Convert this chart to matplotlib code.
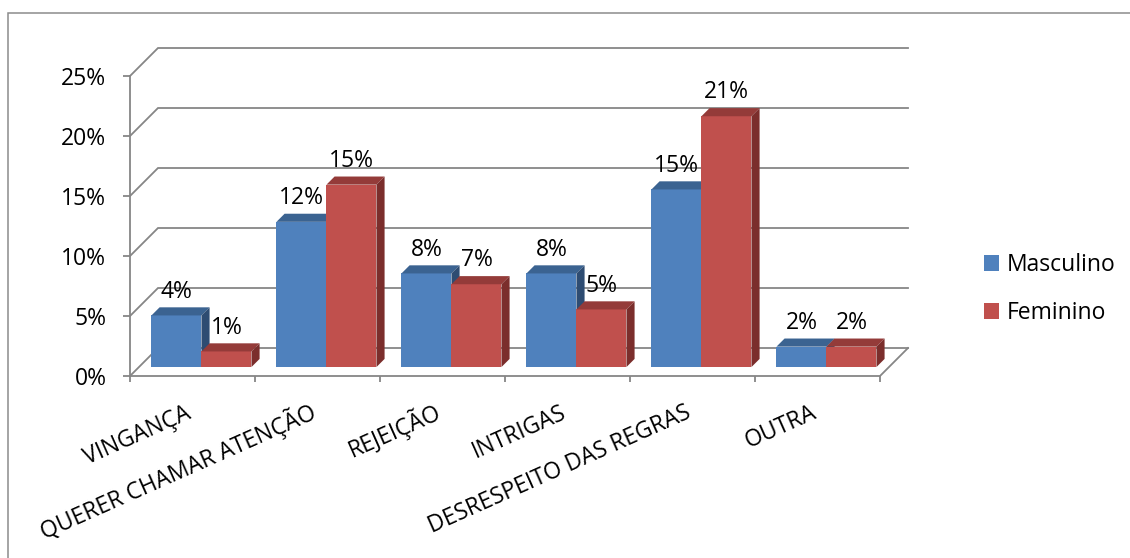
import matplotlib.pyplot as plt
from matplotlib.patches import Polygon, Rectangle, Patch

categorias = ['VINGANÇA', 'QUERER CHAMAR ATENÇÃO', 'REJEIÇÃO', 'INTRIGAS',
              'DESRESPEITO DAS REGRAS', 'OUTRA']
masculino = [4.3, 12.1, 7.8, 7.8, 14.8, 1.7]   # %
feminino = [1.3, 15.2, 6.9, 4.8, 20.9, 1.7]    # %
escala = [0, 5, 10, 15, 20, 25]

plt.rcParams['font.family'] = ['Open Sans', 'DejaVu Sans']
FS = 16.5

# deslocamento da profundidade (efeito 3D), em unidades de categoria e em %
DX, DY = 0.224, 2.333
F0, F1 = 0.32, 0.61   # frente e fundo das barras dentro da profundidade
LARG = 0.4
CINZA = '#868686'
CORES = {'Masculino': ('#4F81BD', '#3B6391', '#2E4C72'),
         'Feminino': ('#C0504D', '#943B39', '#7B2E2C')}

fig = plt.figure(figsize=(11.3, 5.58), dpi=100)
# moldura do gráfico
fig.patches.append(Rectangle((8 / 1130, -0.1), 1.0, 1.1 - 13 / 558,
                             transform=fig.transFigure, fill=False,
                             edgecolor='#8c8c8c', lw=1.1))

ax = fig.add_axes([130 / 1130, 182 / 558, 781.25 / 1130, 330 / 558])
ax.set_xlim(-0.5, 5.5 + 0.25)
ax.set_ylim(0, 27.5)
for s in ax.spines.values():
    s.set_visible(False)

# paredes: linhas de grade na lateral e no fundo
for v in escala:
    ax.plot([-0.5, -0.5 + DX, 5.5 + DX], [v, v + DY, v + DY], color=CINZA,
            lw=1.3, zorder=1, clip_on=False, solid_joinstyle='miter')
ax.plot([-0.5, -0.5], [0, 25], color=CINZA, lw=1.3, zorder=1, clip_on=False)
ax.plot([-0.5, 5.5, 5.5 + DX], [0, 0, DY], color=CINZA, lw=1.3, zorder=1,
        clip_on=False)


def barra(x0, v, cores):
    frente, topo, lado = cores
    base = F0 * DY
    x0 = x0 + F0 * DX
    x1 = x0 + LARG
    t = base + v
    bx, by = (F1 - F0) * DX, (F1 - F0) * DY
    ax.bar(x0, v, width=LARG, bottom=base, align='edge', color=frente,
           zorder=3)
    ax.add_patch(Polygon([(x0, t), (x1, t), (x1 + bx, t + by), (x0 + bx, t + by)],
                         closed=True, facecolor=topo, edgecolor='none', zorder=3))
    ax.add_patch(Polygon([(x1, base), (x1, t), (x1 + bx, t + by), (x1 + bx, base + by)],
                         closed=True, facecolor=lado, edgecolor='none', zorder=3))
    ax.text(x0 + LARG / 2, v + DY - 0.1, f'{round(v)}%', ha='center',
            va='baseline', fontsize=FS, zorder=4)


for i in range(len(categorias)):
    barra(i - LARG, masculino[i], CORES['Masculino'])
    barra(i, feminino[i], CORES['Feminino'])

ax.set_yticks(escala)
ax.set_yticklabels([f'{v}%' for v in escala])
ax.tick_params(axis='y', length=5, width=1.3, color=CINZA, pad=12, labelsize=FS)

ax.set_xticks(range(len(categorias)))
ax.set_xticklabels(categorias, rotation=24, ha='right', va='baseline',
                   rotation_mode='anchor')
ax.tick_params(axis='x', which='major', length=0, pad=30, labelsize=FS)
ax.set_xticks([i - 0.5 for i in range(len(categorias) + 1)], minor=True)
ax.tick_params(axis='x', which='minor', length=4.5, width=1.3, color=CINZA)

handles = [Patch(facecolor=CORES[k][0]) for k in CORES]
fig.legend(handles, list(CORES), loc='center left',
           bbox_to_anchor=(984 / 1130, 1 - 289 / 558), frameon=False,
           fontsize=FS, handlelength=0.65, handleheight=0.65,
           handletextpad=0.35, labelspacing=1.05, borderpad=0, borderaxespad=0)

fig.savefig('out.png', dpi=100)
